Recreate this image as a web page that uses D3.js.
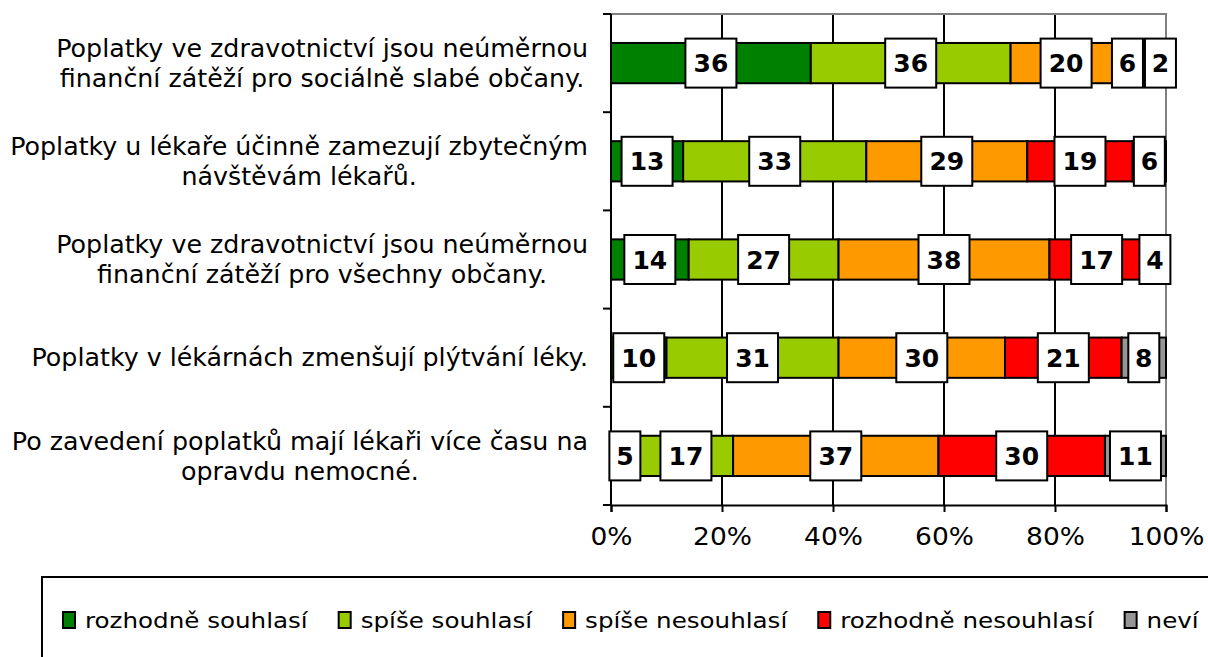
<!DOCTYPE html>
<html><head><meta charset="utf-8">
<script src="https://cdn.jsdelivr.net/npm/d3@7"></script>
<style>
html,body{margin:0;padding:0;background:#fff;overflow:hidden;}
svg{display:block;}
text{font-family:"DejaVu Sans",Verdana,sans-serif;}
</style></head>
<body>
<svg id="chart" width="1208" height="657"></svg>
<script>
const categories = [
  ["Poplatky ve zdravotnictví jsou neúměrnou", "finanční zátěží pro sociálně slabé občany."],
  ["Poplatky u lékaře účinně zamezují zbytečným", "návštěvám lékařů."],
  ["Poplatky ve zdravotnictví jsou neúměrnou", "finanční zátěží pro všechny občany."],
  ["Poplatky v lékárnách zmenšují plýtvání léky."],
  ["Po zavedení poplatků mají lékaři více času na", "opravdu nemocné."]
];
const seriesNames = ["rozhodně souhlasí", "spíše souhlasí", "spíše nesouhlasí", "rozhodně nesouhlasí", "neví"];
const seriesColors = ["#008000", "#99CC00", "#FF9900", "#FF0000", "#969696"];
const rozhodneSouhlasi = [36, 13, 14, 10, 5];
const spiseSouhlasi = [36, 33, 27, 31, 17];
const spiseNesouhlasi = [20, 29, 38, 30, 37];
const rozhodneNesouhlasi = [6, 19, 17, 21, 30];
const nevi = [2, 6, 4, 8, 11];
const xTicks = [0, 20, 40, 60, 80, 100];

const seriesValues = [rozhodneSouhlasi, spiseSouhlasi, spiseNesouhlasi, rozhodneNesouhlasi, nevi];

const svg = d3.select("#chart");
const L = 611, R = 1166, T = 14, B = 505;

function stretch(sel, f) {
  sel.each(function() {
    const w = this.getComputedTextLength();
    d3.select(this).attr("textLength", w * f).attr("lengthAdjust", "spacingAndGlyphs");
  });
}

const x = d3.scaleLinear().domain([0, 100]).range([L, R]);
const y = d3.scaleBand().domain(d3.range(categories.length)).range([T, B]).paddingInner(0.59).paddingOuter(0.295);

// gridlines
svg.append("g").selectAll("line").data(xTicks.filter(t => t > 0 && t < 100)).join("line")
  .attr("x1", d => x(d)).attr("x2", d => x(d)).attr("y1", T).attr("y2", B)
  .attr("stroke", "#000").attr("stroke-width", 2);
// top & right border (gray)
svg.append("path").attr("d", `M${L},${T}H${R}V${B}`).attr("fill", "none").attr("stroke", "#808080").attr("stroke-width", 2);

// stacked bars
const rows = categories.map((c, i) => {
  let acc = 0;
  return seriesValues.map((s, k) => { const v = s[i]; const o = {row: i, k, x0: acc, x1: acc + v, v}; acc += v; return o; });
});
const segs = rows.flat();
svg.append("g").selectAll("rect").data(segs).join("rect")
  .attr("x", d => x(d.x0)).attr("width", d => x(d.x1) - x(d.x0))
  .attr("y", d => y(d.row)).attr("height", y.bandwidth())
  .attr("fill", d => seriesColors[d.k]).attr("stroke", "#000").attr("stroke-width", 2);

// axes
const yAxisG = svg.append("g");
const yBounds = d3.range(categories.length + 1).map(i => T + i * y.step());
yAxisG.append("line").attr("x1", L).attr("x2", L).attr("y1", T).attr("y2", B).attr("stroke", "#000").attr("stroke-width", 2);
yAxisG.selectAll(".tk").data(yBounds).join("line").attr("class", "tk")
  .attr("x1", L - 8).attr("x2", L).attr("y1", d => d).attr("y2", d => d).attr("stroke", "#000").attr("stroke-width", 2);

const xAxis = d3.axisBottom(x).tickValues(xTicks).tickFormat(d => d + "%").tickSize(7).tickPadding(15);
const xg = svg.append("g").attr("transform", `translate(0,${B})`).call(xAxis);
xg.select(".domain").attr("stroke", "#000").attr("stroke-width", 2);
xg.selectAll(".tick line").attr("stroke", "#000").attr("stroke-width", 2);
xg.selectAll(".tick text").attr("font-size", 25).attr("fill", "#000").attr("font-family", "DejaVu Sans, Verdana, sans-serif");
stretch(xg.selectAll(".tick text"), 1.06);

// data labels
const labelG = svg.append("g");
rows.forEach(row => {
  const items = row.map(d => {
    const w = String(d.v).length > 1 ? 51 : 31;
    return {d, w, cx: x((d.x0 + d.x1) / 2)};
  });
  for (let i = items.length - 2; i >= 0; i--) {
    const a = items[i], b = items[i + 1];
    const ov = (a.cx + a.w / 2) - (b.cx - b.w / 2) + 2;
    if (ov > 0) a.cx -= ov;
  }
  items.forEach(it => {
    const cy = y(it.d.row) + y.bandwidth() / 2;
    const g = labelG.append("g");
    g.append("rect").attr("x", it.cx - it.w / 2).attr("y", cy - 24.5).attr("width", it.w).attr("height", 49)
      .attr("fill", "#fff").attr("stroke", "#000").attr("stroke-width", 2);
    g.append("text").attr("x", it.cx).attr("y", cy).attr("dy", "0.36em").attr("text-anchor", "middle")
      .attr("font-size", 25).attr("font-weight", "bold").attr("fill", "#000").text(it.d.v);
  });
});

// category labels
const catG = svg.append("g");
const lineH = 30;
categories.forEach((lines, i) => {
  const cy = y(i) + y.bandwidth() / 2;
  const g = catG.append("g");
  const texts = lines.map((ln, j) => g.append("text")
    .attr("y", cy + (j - (lines.length - 1) / 2) * lineH).attr("dy", "0.36em")
    .attr("text-anchor", "middle").attr("font-size", 24).attr("fill", "#000").text(ln));
  texts.forEach(t => stretch(t, 1.055));
  const maxW = d3.max(texts, t => +t.attr("textLength"));
  const cx = 588 - maxW / 2;
  texts.forEach(t => t.attr("x", cx));
});

// legend
const lg = svg.append("g");
lg.append("rect").attr("x", 42).attr("y", 577).attr("width", 1200).attr("height", 100)
  .attr("fill", "#fff").attr("stroke", "#000").attr("stroke-width", 2);
let lx = 63;
const ly = 620;
seriesNames.forEach((n, k) => {
  lg.append("rect").attr("x", lx).attr("y", ly - 8).attr("width", 12).attr("height", 16)
    .attr("fill", seriesColors[k]).attr("stroke", "#000").attr("stroke-width", 2);
  const t = lg.append("text").attr("x", lx + 22).attr("y", ly).attr("dy", "0.36em")
    .attr("font-size", 21).attr("fill", "#000").text(n);
  stretch(t, 1.17);
  lx += 22 + (+t.attr("textLength")) + 31;
});
</script>
</body></html>
